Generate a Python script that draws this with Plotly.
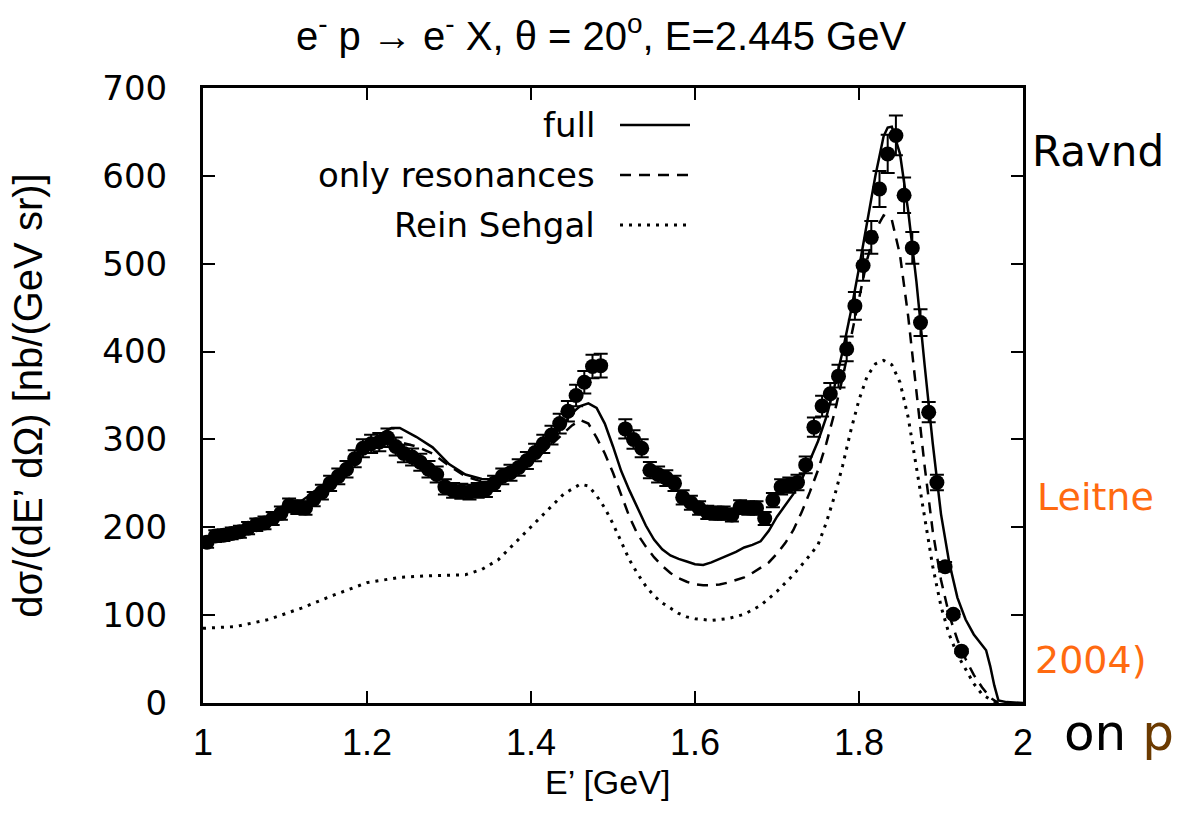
import plotly.graph_objects as go

# ---------------- data ----------------
data_E = [1.005, 1.015, 1.025, 1.035, 1.045, 1.055, 1.065, 1.075, 1.085, 1.095,
          1.105, 1.115, 1.125, 1.135, 1.145, 1.155, 1.165, 1.175, 1.185, 1.195,
          1.205, 1.215, 1.225, 1.235, 1.245, 1.255, 1.265, 1.275, 1.285, 1.295,
          1.305, 1.315, 1.325, 1.335, 1.345, 1.355, 1.365, 1.375, 1.385, 1.395,
          1.405, 1.415, 1.425, 1.435, 1.445, 1.455, 1.465, 1.475, 1.485,
          1.515, 1.525, 1.535, 1.545, 1.555, 1.565, 1.575, 1.585, 1.595,
          1.605, 1.615, 1.625, 1.635, 1.645, 1.655, 1.665, 1.675, 1.685, 1.695,
          1.705, 1.715, 1.725, 1.735, 1.745, 1.755, 1.765, 1.775, 1.785, 1.795,
          1.805, 1.815, 1.825, 1.835, 1.845, 1.855, 1.865, 1.875, 1.885, 1.895,
          1.905, 1.915, 1.925]
data_xs = [183, 190, 191, 193, 195, 199, 203, 205, 210, 216,
           225, 223, 222, 232, 240, 250, 258, 266, 278, 290,
           295, 297, 302, 292, 284, 280, 274, 266, 260, 246,
           242, 241, 240, 242, 243, 250, 258, 262, 268, 276,
           285, 295, 305, 318, 332, 350, 365, 383, 384,
           312, 300, 290, 265, 260, 256, 250, 234, 228,
           222, 217, 216, 216, 214, 223, 222, 222, 210, 231,
           246, 248, 251, 271, 314, 338, 352, 372, 403, 452,
           498, 530, 585, 625, 646, 578, 518, 433, 331, 251,
           155, 101, 59]
data_err_percent = 3.5

full_E = [1.00, 1.02, 1.04, 1.06, 1.08, 1.10, 1.12, 1.14, 1.16, 1.18, 1.20, 1.22,
          1.23, 1.24, 1.26, 1.28, 1.30, 1.32, 1.34, 1.36, 1.38, 1.40, 1.42, 1.44,
          1.45, 1.46, 1.47, 1.48, 1.49, 1.50, 1.51, 1.52, 1.53, 1.54, 1.55, 1.56,
          1.57, 1.58, 1.59, 1.60, 1.61, 1.62, 1.63, 1.64, 1.65, 1.66, 1.67, 1.68,
          1.69, 1.70, 1.71, 1.72, 1.73, 1.74, 1.75, 1.76, 1.77, 1.78, 1.79, 1.80,
          1.81, 1.82, 1.83, 1.835, 1.84, 1.85, 1.86, 1.87, 1.88, 1.89, 1.90, 1.91,
          1.92, 1.93, 1.94, 1.95, 1.955, 1.96, 1.965, 1.97, 1.98, 2.00]
full_xs = [186, 190, 194, 200, 208, 220, 230, 243, 258, 275, 293, 308,
           313, 313, 303, 291, 272, 260, 255, 254, 262, 276, 295, 318,
           330, 338, 341, 336, 318, 292, 264, 242, 222, 202, 186, 175,
           168, 164, 161, 158, 157, 160, 164, 168, 172, 177, 180, 184,
           196, 212, 225, 238, 254, 275, 298, 325, 360, 400, 445, 495,
           548, 600, 645, 655, 656, 625, 560, 480, 385, 295, 215, 160,
           120, 95, 78, 66, 60, 42, 20, 3, 1, 0]

res_E = [1.00, 1.05, 1.10, 1.15, 1.20, 1.22, 1.24, 1.26, 1.28, 1.30, 1.32, 1.34,
         1.36, 1.38, 1.40, 1.42, 1.44, 1.45, 1.46, 1.47, 1.48, 1.49, 1.50, 1.51,
         1.52, 1.53, 1.54, 1.55, 1.56, 1.57, 1.58, 1.59, 1.60, 1.61, 1.62, 1.63,
         1.64, 1.65, 1.66, 1.67, 1.68, 1.69, 1.70, 1.71, 1.72, 1.73, 1.74, 1.75,
         1.76, 1.77, 1.78, 1.79, 1.80, 1.81, 1.82, 1.83, 1.84, 1.85, 1.86, 1.87,
         1.88, 1.89, 1.90, 1.91, 1.92, 1.93, 1.94, 1.95, 1.96, 1.97]
res_xs = [186, 199, 218, 250, 288, 296, 297, 292, 284, 270, 258, 252,
          252, 262, 272, 290, 308, 316, 322, 318, 302, 284, 262, 238,
          212, 192, 178, 166, 156, 148, 142, 138, 135, 134, 134, 135,
          137, 140, 143, 148, 154, 160, 170, 182, 197, 217, 240, 265,
          295, 330, 370, 415, 460, 505, 538, 555, 550, 510, 440, 355,
          270, 195, 140, 100, 72, 50, 32, 18, 6, 0]

rs_E = [1.00, 1.04, 1.08, 1.12, 1.16, 1.20, 1.24, 1.28, 1.32, 1.34, 1.36, 1.38,
        1.40, 1.42, 1.44, 1.46, 1.47, 1.48, 1.49, 1.50, 1.51, 1.52, 1.53, 1.54,
        1.55, 1.56, 1.57, 1.58, 1.59, 1.60, 1.62, 1.64, 1.66, 1.68, 1.70, 1.72,
        1.74, 1.75, 1.76, 1.77, 1.78, 1.79, 1.80, 1.81, 1.82, 1.83, 1.84, 1.85,
        1.86, 1.87, 1.88, 1.89, 1.90, 1.91, 1.92, 1.93, 1.94, 1.95, 1.96, 1.97]
rs_xs = [85, 87, 95, 108, 123, 137, 143, 145, 146, 152, 163, 182,
         200, 220, 238, 249, 247, 236, 222, 204, 184, 163, 147, 133,
         122, 114, 108, 102, 98, 96, 94, 96, 101, 111, 127, 146,
         168, 180, 205, 235, 270, 310, 345, 372, 386, 390, 385, 365,
         325, 270, 210, 155, 110, 78, 55, 38, 22, 10, 4, 0]

x_ticks = [1, 1.2, 1.4, 1.6, 1.8, 2]
x_tick_labels = ["1", "1.2", "1.4", "1.6", "1.8", "2"]
y_ticks = [0, 100, 200, 300, 400, 500, 600, 700]

legend_names = ["full", "only resonances", "Rein Sehgal"]

# ---------------- layout geometry ----------------
W, H = 1177, 826
L, R, T, B = 203, 154, 88, 123
PW, PH = W - L - R, H - T - B


def px(xp):
    return (xp - L) / PW


def py(yp):
    return (H - B - yp) / PH


FONT = "Liberation Sans, Arial, sans-serif"
WIDE = "DejaVu Sans, Liberation Sans, sans-serif"

fig = go.Figure()

fig.add_trace(go.Scatter(x=full_E, y=full_xs, mode="lines", name=legend_names[0],
                         line=dict(color="black", width=2.5), showlegend=False))
fig.add_trace(go.Scatter(x=res_E, y=res_xs, mode="lines", name=legend_names[1],
                         line=dict(color="black", width=2.5, dash="11px,8px"),
                         showlegend=False))
fig.add_trace(go.Scatter(x=rs_E, y=rs_xs, mode="lines", name=legend_names[2],
                         line=dict(color="black", width=3, dash="3px,6px"),
                         showlegend=False))
fig.add_trace(go.Scatter(x=data_E, y=data_xs, mode="markers", name="data",
                         marker=dict(color="black", size=15, symbol="circle"),
                         error_y=dict(type="percent", value=data_err_percent,
                                      color="black", thickness=2, width=7),
                         showlegend=False))

# legend imitation (gnuplot style: text then sample)
leg_y = [125, 175, 225]
leg_dash = ["solid", "11px,8px", "3px,6px"]
leg_w = [2.5, 2.5, 3]
for name, yy, d, w in zip(legend_names, leg_y, leg_dash, leg_w):
    fig.add_annotation(x=px(597), y=py(yy), xref="paper", yref="paper",
                       text=name, showarrow=False, xanchor="right", yanchor="middle",
                       font=dict(family=WIDE, size=34, color="black"))
    fig.add_shape(type="line", xref="paper", yref="paper",
                  x0=px(620), x1=px(690), y0=py(yy), y1=py(yy),
                  line=dict(color="black", width=w, dash=d))

# x-axis title (placed as in the reference)
fig.add_annotation(x=px(607), y=py(782), xref="paper", yref="paper",
                   text="E\u2019 [GeV]", showarrow=False, xanchor="center", yanchor="middle",
                   font=dict(family=FONT, size=34, color="black"))

# background slide fragments
fig.add_annotation(x=px(1030), y=py(151), xref="paper", yref="paper",
                   text="Ravnd", showarrow=False, xanchor="left", yanchor="middle",
                   font=dict(family=WIDE, size=42, color="black"))
fig.add_annotation(x=px(1035), y=py(497), xref="paper", yref="paper",
                   text="Leitne", showarrow=False, xanchor="left", yanchor="middle",
                   font=dict(family=WIDE, size=38, color="#FF6A10"))
fig.add_annotation(x=px(1033), y=py(660), xref="paper", yref="paper",
                   text="2004)", showarrow=False, xanchor="left", yanchor="middle",
                   font=dict(family=WIDE, size=38, color="#FF6A10"))
fig.add_annotation(x=px(1062), y=py(733), xref="paper", yref="paper",
                   text="on <span style='color:#6B3A00'>p</span>", showarrow=False,
                   xanchor="left", yanchor="middle",
                   font=dict(family=WIDE, size=50, color="black"))

fig.update_layout(
    width=W, height=H,
    margin=dict(l=L, r=R, t=T, b=B, pad=0),
    paper_bgcolor="white", plot_bgcolor="white",
    title=dict(text="e<sup>-</sup> p \u2192 e<sup>-</sup> X, \u03b8 = 20<sup>o</sup>, E=2.445 GeV",
               xref="container", x=601 / W, xanchor="center", y=1 - 36 / H, yanchor="middle",
               font=dict(family=FONT, size=40, color="black")),
    font=dict(family=FONT, color="black"),
)

fig.update_xaxes(range=[1, 2], tickvals=x_ticks, ticktext=x_tick_labels,
                 ticks="inside", ticklen=12, tickwidth=2, tickcolor="black",
                 showline=True, linewidth=3, linecolor="black", mirror="ticks",
                 showgrid=False, zeroline=False, ticklabelstandoff=6,
                 tickfont=dict(family=FONT, size=36))
fig.update_yaxes(range=[0, 700], tickvals=y_ticks,
                 ticks="inside", ticklen=12, tickwidth=2, tickcolor="black",
                 showline=True, linewidth=3, linecolor="black", mirror="ticks",
                 showgrid=False, zeroline=False, ticklabelstandoff=26,
                 tickfont=dict(family=WIDE, size=34),
                 title=dict(text="d\u03c3/(dE\u2019 d\u03a9) [nb/(GeV sr)]", standoff=48,
                            font=dict(family=FONT, size=40)))

fig.write_html("out.html")
